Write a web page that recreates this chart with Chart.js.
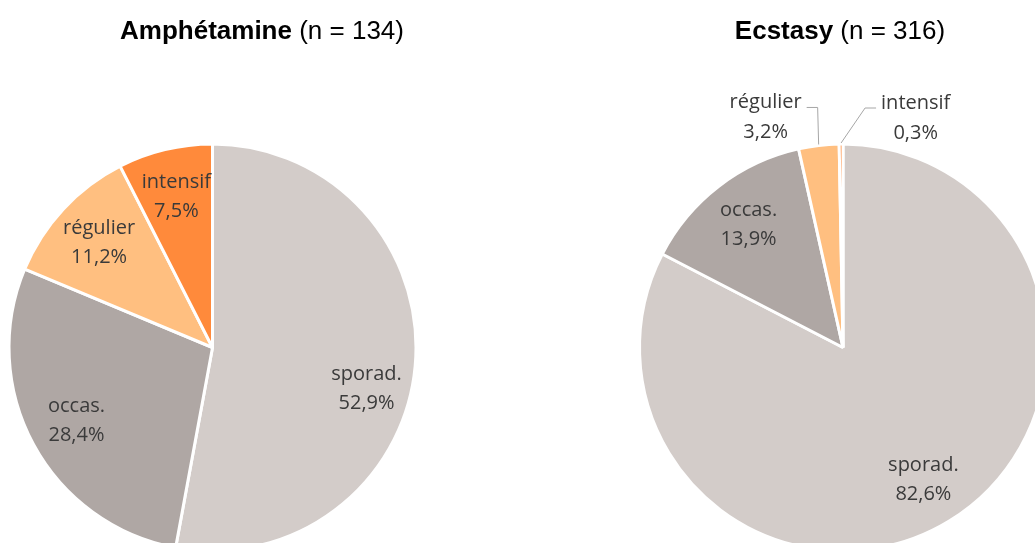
<!DOCTYPE html>
<html>
<head>
<meta charset="utf-8">
<script src="https://cdn.jsdelivr.net/npm/chart.js@4"></script>
<style>
  html, body { margin: 0; padding: 0; background: #fff; overflow: hidden; }
  #wrap { position: relative; width: 1035px; height: 543px; overflow: hidden; }
  .box { position: absolute; top: 0; }
</style>
</head>
<body>
<div id="wrap">
  <div class="box" style="left:0"><canvas id="amph" width="517" height="560"></canvas></div>
  <div class="box" style="left:517px"><canvas id="ecst" width="560" height="560"></canvas></div>
</div>
<script>
var categories = ['sporad.', 'occas.', 'régulier', 'intensif'];
var amphValues = [52.9, 28.4, 11.2, 7.5];
var ecstValues = [82.6, 13.9, 3.2, 0.3];
var colors = ['#D3CCC9', '#AFA7A4', '#FFBF80', '#FF8A3B'];

// data labels: inside at ~0.76 r, or outside with a leader line
var pieLabels = {
  id: 'pieLabels',
  afterDatasetsDraw: function (chart, args, opts) {
    var ctx = chart.ctx;
    var meta = chart.getDatasetMeta(0);
    var data = chart.data.datasets[0].data;
    ctx.save();
    ctx.font = '20px "Open Sans"';
    ctx.fillStyle = '#3A3A3A';
    ctx.textBaseline = 'middle';
    meta.data.forEach(function (arc, i) {
      var p = arc.getProps(['x', 'y', 'startAngle', 'endAngle', 'outerRadius'], true);
      var mid = (p.startAngle + p.endAngle) / 2;
      var l1 = chart.data.labels[i];
      var l2 = data[i].toFixed(1).replace('.', ',') + '%';
      var out = opts.outside && opts.outside[i];
      ctx.textAlign = 'center';
      if (!out) {
        var r = p.outerRadius * 0.76;
        var cx = p.x + Math.cos(mid) * r, cy = p.y + Math.sin(mid) * r;
        var nudge = (opts.nudge && opts.nudge[i]) || 0;  // best-fit shift
        cy += nudge;
        ctx.fillText(l1, cx, cy - 14.5);
        ctx.fillText(l2, cx, cy + 14.5);
      } else {
        var ex = p.x + Math.cos(mid) * (p.outerRadius + 1);
        var ey = p.y + Math.sin(mid) * (p.outerRadius + 1);
        var kx = ex + out.elbowX, ky = ey + out.elbowY;
        var tx = kx + out.dir * 11;
        ctx.strokeStyle = '#A6A6A6';
        ctx.lineWidth = 1;
        ctx.beginPath();
        ctx.moveTo(ex, ey);
        ctx.lineTo(kx, ky);
        ctx.lineTo(tx, ky);
        ctx.stroke();
        var w = ctx.measureText(l1).width;
        var mx = out.dir < 0 ? tx - 5 - w / 2 : tx + 5 + w / 2;
        ctx.fillText(l1, mx, ky - 5);
        ctx.fillText(l2, mx, ky + 25);
      }
    });
    ctx.restore();
  }
};

// title with bold drug name and plain count
var splitTitle = {
  id: 'splitTitle',
  afterDraw: function (chart, args, opts) {
    var ctx = chart.ctx;
    ctx.save();
    ctx.fillStyle = '#000';
    ctx.textBaseline = 'middle';
    ctx.textAlign = 'left';
    ctx.font = 'bold 26px "Liberation Sans", Arial';
    var wb = ctx.measureText(opts.bold).width;
    ctx.font = '26px "Liberation Sans", Arial';
    var wn = ctx.measureText(opts.normal).width;
    var x0 = opts.x - (wb + wn) / 2;
    ctx.font = 'bold 26px "Liberation Sans", Arial';
    ctx.fillText(opts.bold, x0, opts.y);
    ctx.font = '26px "Liberation Sans", Arial';
    ctx.fillText(opts.normal, x0 + wb, opts.y);
    ctx.restore();
  }
};

function makePie(id, values, padding, title, outside, nudge) {
  return new Chart(document.getElementById(id), {
    type: 'pie',
    data: {
      labels: categories,
      datasets: [{
        data: values,
        backgroundColor: colors,
        borderColor: '#ffffff',
        borderWidth: 3
      }]
    },
    options: {
      responsive: false,
      animation: false,
      events: [],
      layout: { padding: padding },
      plugins: {
        legend: { display: false },
        tooltip: { enabled: false },
        splitTitle: title,
        pieLabels: { outside: outside, nudge: nudge }
      }
    },
    plugins: [pieLabels, splitTitle]
  });
}

makePie('amph', amphValues,
  { left: 7.5, right: 99.5, top: 142.5, bottom: 7.5 },
  { bold: 'Amphétamine', normal: ' (n = 134)', x: 262, y: 32 },
  null, [27, 0, 0, 0]);

makePie('ecst', ecstValues,
  { left: 121, right: 29, top: 142.5, bottom: 7.5 },
  { bold: 'Ecstasy', normal: ' (n = 316)', x: 323, y: 32 },
  [null, null, { elbowX: -1, elbowY: -37, dir: -1 }, { elbowX: 24, elbowY: -35, dir: 1 }],
  null);
</script>
</body>
</html>
